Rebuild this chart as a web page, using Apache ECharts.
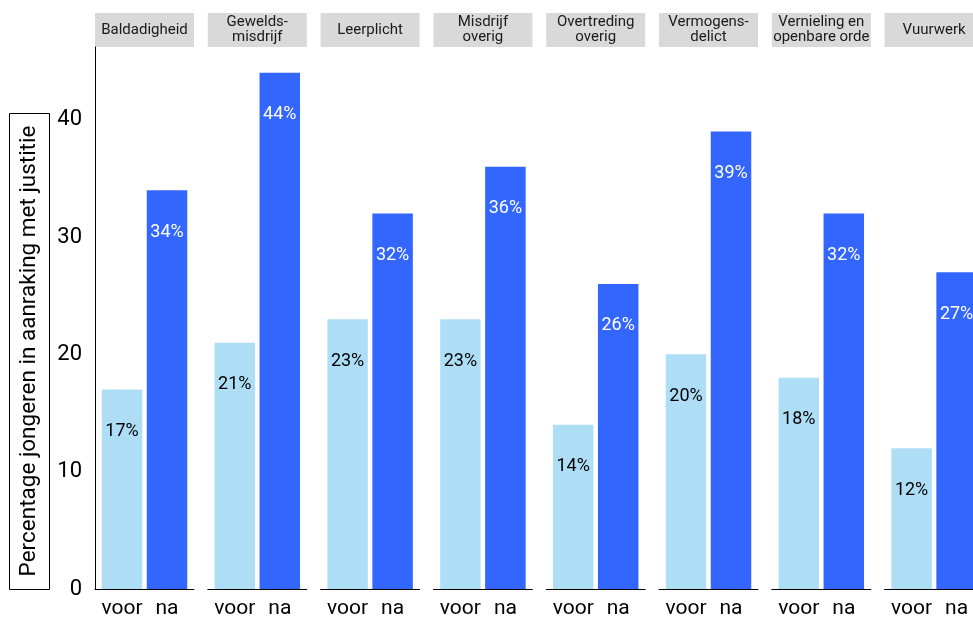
<!DOCTYPE html>
<html>
<head>
<meta charset="utf-8">
<script src="https://cdn.jsdelivr.net/npm/echarts@6/dist/echarts.min.js"></script>
<style>
html,body{margin:0;padding:0;background:#fff;}
#main{width:973px;height:622px;}
</style>
</head>
<body>
<div id="main"></div>
<script>
const categories = ['Baldadigheid','Gewelds-\nmisdrijf','Leerplicht','Misdrijf\noverig','Overtreding\noverig','Vermogens-\ndelict','Vernieling en\nopenbare orde','Vuurwerk'];
const periods = ['voor','na'];
const voorValues = [17,21,23,23,14,20,18,12];
const naValues = [34,44,32,36,26,39,32,27];
const yTicks = [0,10,20,30,40];
const yTitle = 'Percentage jongeren in aanraking met justitie';

const colorVoor = '#AEDEF6';
const colorNa = '#3366FF';
const FONT = 'Roboto';

const panelLeft = 95, panelStep = 112.8, panelWidth = 99, panelTop = 47, panelHeight = 542;

const grids = [], xAxes = [], yAxes = [], series = [], graphics = [];

categories.forEach((cat, i) => {
  const left = panelLeft + i * panelStep;
  grids.push({left: left, top: panelTop, width: panelWidth, height: panelHeight, containLabel: false, outerBoundsMode: 'none'});
  xAxes.push({
    type: 'value', gridIndex: i, min: 0.4, max: 2.6,
    axisLine: {show: true, onZero: false, lineStyle: {color: '#000', width: 1}},
    axisTick: {show: false},
    splitLine: {show: false},
    axisLabel: {
      customValues: [1, 2],
      formatter: v => periods[Math.round(v) - 1],
      fontSize: 21, fontFamily: FONT, color: '#000', margin: 9
    }
  });
  yAxes.push({
    type: 'value', gridIndex: i, min: 0, max: 46.2, interval: 10,
    show: i === 0,
    axisLine: {show: true, lineStyle: {color: '#000', width: 1}},
    axisTick: {show: false},
    splitLine: {show: false},
    axisLabel: {customValues: yTicks, fontSize: 22, fontFamily: FONT, color: '#000', margin: 13}
  });
  series.push({
    type: 'bar', xAxisIndex: i, yAxisIndex: i, barWidth: 40.5,
    data: [
      {value: [1, voorValues[i]], itemStyle: {color: colorVoor}, label: {color: '#000'}},
      {value: [2, naValues[i]], itemStyle: {color: colorNa}, label: {color: '#fff'}}
    ],
    label: {
      show: true, position: 'insideTop', distance: 33,
      formatter: p => p.value[1] + '%',
      fontSize: 18, lineHeight: 18, fontFamily: FONT
    },
    silent: true, animation: false
  });
  graphics.push({
    type: 'rect', shape: {x: left, y: 13, width: panelWidth, height: 34},
    style: {fill: '#D9D9D9'}, silent: true
  });
  graphics.push({
    type: 'text', x: left + panelWidth / 2, y: 30,
    style: {text: cat, align: 'center', verticalAlign: 'middle', font: '15px ' + FONT, lineHeight: 15, fill: '#1A1A1A'},
    silent: true
  });
});

graphics.push({
  type: 'rect', shape: {x: 9.5, y: 113.5, width: 40, height: 476},
  style: {fill: '#fff', stroke: '#000', lineWidth: 1}, silent: true
});
graphics.push({
  type: 'text', x: 29, y: 351, rotation: Math.PI / 2,
  style: {text: yTitle, align: 'center', verticalAlign: 'middle', font: '22.5px ' + FONT, fill: '#000'},
  silent: true
});

const chart = echarts.init(document.getElementById('main'), null, {renderer: 'canvas'});
chart.setOption({
  animation: false,
  backgroundColor: '#fff',
  grid: grids, xAxis: xAxes, yAxis: yAxes, series: series,
  graphic: graphics
});
</script>
</body>
</html>
